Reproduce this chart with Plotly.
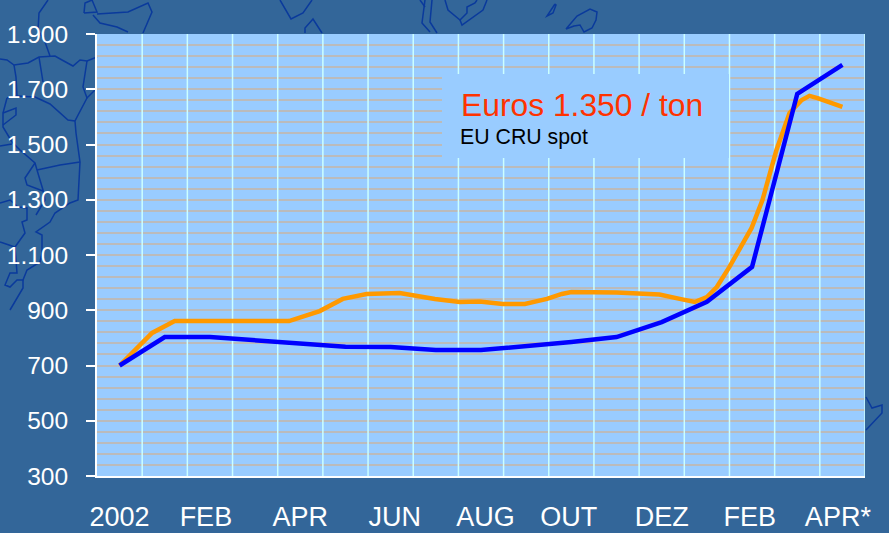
import plotly.graph_objects as go

W, H = 889, 533
L, R, T, B = 97, 865, 34, 476
X0, X1, Y0, Y1 = -0.5, 16.5, 300, 1900

y_ticks = [300, 500, 700, 900, 1100, 1300, 1500, 1700, 1900]
y_labels = ["300", "500", "700", "900", "1.100", "1.300", "1.500", "1.700", "1.900"]
x_labels = ["2002", "FEB", "APR", "JUN", "AUG", "OUT", "DEZ", "FEB", "APR*"]
x_label_pos = [0, 1.91, 4, 6.09, 8.1, 9.94, 12, 13.95, 15.9]

blue_x = list(range(17))
blue_y = [700, 803, 803, 792, 777, 768, 767, 756, 756, 770, 785, 803, 857, 931, 1057, 1683, 1788]

orange_x = [0, 0.5, 0.72, 1.22, 3.75, 4.43, 4.94, 5.47, 6.05, 6.2, 6.98, 7.53, 7.97, 8.48, 8.97,
            9.46, 9.79, 10, 11, 11.95, 12.4, 12.73, 13, 13.22, 13.5, 13.72, 13.99, 14.23, 14.54,
            14.83, 15.1, 15.27, 15.45, 16]
orange_y = [700, 781, 818, 861, 861, 897, 941, 959, 962, 962, 941, 930, 932, 923, 923,
            941, 959, 966, 964, 957, 941, 930, 948, 984, 1057, 1118, 1198, 1299, 1480,
            1614, 1661, 1676, 1668, 1636]

# decorative map outline of the slide background, in page pixels
map_paths = [
    [(48, 0), (39, 13), (38, 30), (45, 42), (50, 56)],
    [(0, 59), (7, 60), (14, 65), (28, 63), (39, 57), (55, 56), (62, 60), (73, 66), (80, 60), (87, 61), (97, 57)],
    [(39, 57), (43, 82)],
    [(87, 61), (83, 87), (87, 98), (97, 88)],
    [(87, 98), (75, 121), (76, 133), (80, 162), (78, 200), (70, 203), (55, 213), (50, 222), (36, 232), (42, 235),
     (42, 253), (40, 262), (27, 270), (23, 280), (17, 280), (10, 287), (5, 285), (10, 273), (17, 273), (15, 247)],
    [(7, 98), (17, 96), (35, 97), (50, 104), (68, 120), (75, 121)],
    [(14, 65), (16, 77), (17, 96)],
    [(7, 98), (3, 113), (3, 127), (12, 142), (20, 150), (35, 163), (37, 170), (43, 190), (45, 200), (36, 215)],
    [(3, 113), (16, 108), (16, 115), (3, 125)],
    [(0, 146), (12, 144)],
    [(35, 163), (25, 178), (27, 185), (43, 191)],
    [(37, 170), (60, 165), (80, 162)],
    [(0, 203), (10, 200), (18, 207), (27, 208), (27, 220), (22, 222), (25, 233), (15, 247), (0, 242)],
    [(23, 280), (23, 288), (10, 310)],
    [(84, 13), (85, 3), (92, 0), (97, 12), (84, 13)],
    [(93, 15), (100, 23), (117, 27), (128, 32)],
    [(97, 14), (128, 12), (148, 3), (152, 12), (143, 33)],
    [(280, 0), (291, 19), (303, 13), (312, 0)],
    [(305, 33), (305, 28), (313, 19), (322, 33)],
    [(420, 0), (425, 7)],
    [(425, 0), (422, 23), (430, 32)],
    [(432, 0), (430, 22), (437, 33)],
    [(445, 0), (448, 10), (460, 20), (467, 13), (467, 7), (475, 3), (477, 0)],
    [(460, 20), (462, 25), (483, 10), (487, 0)],
    [(555, 4), (547, 16), (553, 13), (556, 5), (555, 4)],
    [(566, 29), (577, 16), (590, 9), (597, 12), (596, 20), (592, 28), (584, 32), (580, 25), (574, 26), (566, 29)],
    [(866, 397), (872, 408), (882, 405), (882, 413), (866, 430)],
]


def to_paper(points):
    xs = [(px - L) / (R - L) for px, _ in points]
    ys = [(B - py) / (B - T) for _, py in points]
    return "M " + " L ".join(f"{x:.5f},{y:.5f}" for x, y in zip(xs, ys))


def px_x(px):
    return X0 + (px - L) / (R - L) * (X1 - X0)


def px_y(py):
    return Y0 + (B - py) / (B - T) * (Y1 - Y0)


shapes = [
    dict(type="path", xref="paper", yref="paper", layer="below", path=to_paper(p),
         line=dict(color="#0A3A9C", width=1.5))
    for p in map_paths
]
# vertical separators sit on top of the horizontal grid
for i in range(1, 18):
    shapes.append(dict(type="line", xref="x", yref="y", layer="between",
                       x0=X0 + i, x1=X0 + i, y0=Y0, y1=Y1,
                       line=dict(color="#CCFFFF", width=1.5)))
# label panel over the grid
shapes.append(dict(type="rect", xref="x", yref="y", layer="between",
                   x0=px_x(442), x1=px_x(729), y0=px_y(158), y1=px_y(74),
                   fillcolor="#99CCFF", line_width=0))

fig = go.Figure()
fig.add_trace(go.Scatter(x=orange_x, y=orange_y, mode="lines", name="orange",
                         line=dict(color="#FF9900", width=4.5), showlegend=False))
fig.add_trace(go.Scatter(x=blue_x, y=blue_y, mode="lines", name="blue",
                         line=dict(color="#0000FF", width=4.5), showlegend=False))

fig.add_annotation(text="Euros 1.350 / ton", xref="paper", yref="paper",
                   x=(460 - L) / (R - L), y=(B - 124) / (B - T), xanchor="left", yanchor="bottom",
                   showarrow=False, borderpad=0, font=dict(family="Liberation Sans", size=31.8, color="#FF3300"))
fig.add_annotation(text="EU CRU spot", xref="paper", yref="paper",
                   x=(459 - L) / (R - L), y=(B - 150) / (B - T), xanchor="left", yanchor="bottom",
                   showarrow=False, borderpad=0, font=dict(family="Liberation Sans", size=21.3, color="#000000"))

fig.update_layout(
    width=W, height=H, autosize=False,
    margin=dict(l=L, r=W - R, t=T, b=H - B, pad=0, autoexpand=False),
    paper_bgcolor="#336699", plot_bgcolor="#99CCFF",
    font=dict(family="Liberation Sans", color="#FFFFFF"),
    shapes=shapes,
    xaxis=dict(range=[X0, X1], tickvals=x_label_pos, ticktext=x_labels, tickmode="array", automargin=False,
               ticks="", showgrid=False, zeroline=False, showline=True, linecolor="#FFFFFF", linewidth=2,
               tickfont=dict(size=27, color="#FFFFFF"), ticklabelstandoff=16),
    yaxis=dict(range=[Y0, Y1], tickvals=y_ticks, ticktext=y_labels, tickmode="array", automargin=False,
               ticks="outside", ticklen=9, tickwidth=2, tickcolor="#FFFFFF",
               showgrid=True, gridcolor="#BBBBBB", gridwidth=1.6, zeroline=False,
               showline=True, linecolor="#FFFFFF", linewidth=2,
               tickfont=dict(size=24.5, color="#FFFFFF"), ticklabelstandoff=13,
               minor=dict(tick0=Y0, dtick=40, showgrid=True, gridcolor="#BBBBBB", gridwidth=1.6, ticks="")),
)
fig.write_html("out.html", config=dict(displayModeBar=False),
               post_script="document.body.style.margin='0';document.documentElement.style.overflow='hidden';")
